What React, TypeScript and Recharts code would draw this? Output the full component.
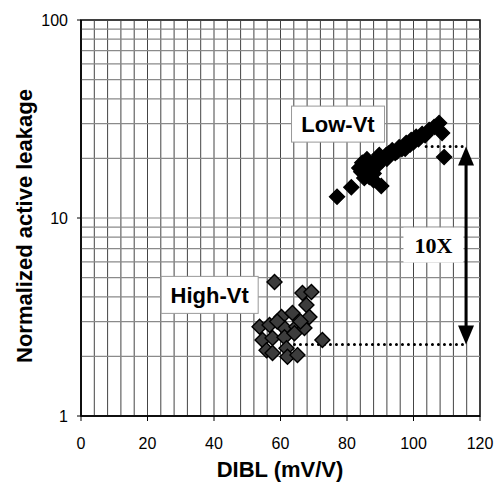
import {
  ScatterChart,
  Scatter,
  XAxis,
  YAxis,
  ReferenceLine,
  ReferenceArea,
  ReferenceDot,
} from "recharts";

// Low-Vt devices (DIBL mV/V, normalized leakage)
const lowVtDibl = [
  77, 81.3, 83.7, 84.3, 84.6, 85.2, 85.5, 86.7, 86.7, 87.5, 88.8, 88, 89.7, 90.3,
  90.5, 91.8, 92.5, 93.6, 94.5, 95.7, 96.5, 97.8, 99.3, 99, 100.8, 101.5, 102.6,
  103.5, 104.7, 106.2, 107.7, 108.6, 109.2, 86, 89, 88, 92, 95, 97.5, 100,
];
const lowVtLeak = [
  12.8, 14.3, 17.9, 17.1, 19, 15.9, 18, 16.1, 18.5, 17.2, 19.6, 16.8, 20.8, 14.5,
  19.5, 20.8, 21.2, 22, 21.3, 22.8, 22.3, 23.9, 24.8, 23.5, 25.7, 25, 26.6, 26.2,
  27.8, 28.8, 30.2, 26.9, 20.3, 19.8, 18.3, 15.5, 19.9, 21.6, 22.4, 24.1,
];

// High-Vt devices
const highVtDibl = [
  58.2, 66.6, 69.3, 67.8, 60.3, 63.6, 68.7, 53.7, 56.7, 61.2, 64.8, 67.2, 54.6,
  57.6, 61.2, 64.2, 55.8, 57.6, 61.8, 62.1, 65.1, 72.6, 59, 66,
];
const highVtLeak = [
  4.75, 4.18, 4.23, 3.64, 3.16, 3.31, 3.16, 2.82, 2.88, 2.78, 2.82, 2.78, 2.42,
  2.48, 2.5, 2.62, 2.15, 2.08, 2.2, 1.99, 2.03, 2.42, 3.0, 3.0,
];

const xTicks = [0, 20, 40, 60, 80, 100, 120];
const yTicks = [1, 10, 100];
const xGrid = [
  4, 8, 12, 16, 20, 24, 28, 32, 36, 40, 44, 48, 52, 56, 60, 64, 68, 72, 76, 80,
  84, 88, 92, 96, 100, 104, 108, 112, 116,
];
const yGrid = [2, 3, 4, 5, 6, 7, 8, 9, 10, 20, 30, 40, 50, 60, 70, 80, 90];

// annotation: the 10X gap between the two groups
const gapX = 115.8;
const gapTop = 23;
const gapBottom = 2.3;
const topDotStart = 103.8;
const bottomDotStart = 64.2;

const lowVt = lowVtDibl.map((x, i) => ({ x, y: lowVtLeak[i] }));
const highVt = highVtDibl.map((x, i) => ({ x, y: highVtLeak[i] }));

const sans = "'Liberation Sans', Arial, sans-serif";

function Diamond(props: any) {
  const { cx, cy, fill, stroke } = props;
  if (cx == null || cy == null) return null;
  const r = 7.5;
  return (
    <polygon
      points={`${cx},${cy - r} ${cx + r},${cy} ${cx},${cy + r} ${cx - r},${cy}`}
      fill={fill}
      stroke={stroke}
      strokeWidth={1.4}
    />
  );
}

function BoxLabel({ cx, cy, text, w, h, border, serif }: any) {
  return (
    <g>
      <rect
        x={cx - w / 2}
        y={cy - h / 2}
        width={w}
        height={h}
        fill="#fff"
        stroke={border ? "#999" : "none"}
      />
      <text
        x={cx}
        y={cy + 8}
        textAnchor="middle"
        fontFamily={serif ? "'Liberation Serif', 'Times New Roman', serif" : sans}
        fontWeight="bold"
        fontSize={22}
        fill="#000"
      >
        {text}
      </text>
    </g>
  );
}

function ArrowHead({ cx, cy, up }: any) {
  const w = 8;
  const h = 19;
  const d = up
    ? `M${cx},${cy} L${cx + w},${cy + h} L${cx - w},${cy + h} Z`
    : `M${cx},${cy} L${cx + w},${cy - h} L${cx - w},${cy - h} Z`;
  return <path d={d} fill="#000" />;
}

export default function App() {
  return (
    <div style={{ position: "absolute", left: 0, top: 0, background: "#fff" }}>
      <ScatterChart
        width={498}
        height={489}
        margin={{ top: 20, right: 18, bottom: 0, left: 0 }}
      >
        {xGrid.map((v) => (
          <ReferenceLine key={"vx" + v} x={v} stroke="#444" strokeWidth={1} />
        ))}
        {yGrid.map((v) => (
          <ReferenceLine key={"hy" + v} y={v} stroke="#8a8a8a" strokeWidth={1.2} />
        ))}
        <ReferenceArea x1={0} x2={120} y1={1} y2={100} fill="none" stroke="#000" strokeWidth={1.5} />
        <XAxis
          type="number"
          dataKey="x"
          domain={[0, 120]}
          ticks={xTicks}
          height={73}
          tickSize={5}
          tickMargin={17}
          axisLine={{ stroke: "#000", strokeWidth: 1.5 }}
          tickLine={{ stroke: "#000" }}
          tick={{ fontSize: 16, fill: "#000", fontFamily: sans }}
          label={{
            content: () => (
              <text
                x={280}
                y={477}
                textAnchor="middle"
                fontFamily={sans}
                fontWeight="bold"
                fontSize={22}
                fill="#000"
              >
                DIBL (mV/V)
              </text>
            ),
          }}
        />
        <YAxis
          type="number"
          dataKey="y"
          scale="log"
          domain={[1, 100]}
          allowDataOverflow
          ticks={yTicks}
          width={81}
          tickSize={4}
          tickMargin={9}
          axisLine={{ stroke: "#000", strokeWidth: 1.5 }}
          tickLine={{ stroke: "#000" }}
          tick={{ fontSize: 16, fill: "#000", fontFamily: sans }}
          label={{
            content: () => (
              <text
                x={32}
                y={226}
                transform="rotate(-90 32 226)"
                textAnchor="middle"
                fontFamily={sans}
                fontWeight="bold"
                fontSize={22}
                fill="#000"
              >
                Normalized active leakage
              </text>
            ),
          }}
        />
        <Scatter
          data={highVt}
          isAnimationActive={false}
          shape={(p: any) => <Diamond {...p} fill="#3c3c3c" stroke="#000" />}
        />
        <Scatter
          data={lowVt}
          isAnimationActive={false}
          shape={(p: any) => <Diamond {...p} fill="#000" stroke="#000" />}
        />
        <ReferenceLine
          segment={[
            { x: topDotStart, y: gapTop },
            { x: gapX, y: gapTop },
          ]}
          stroke="#000"
          strokeWidth={3}
          strokeDasharray="0 6"
          strokeLinecap="round"
        />
        <ReferenceLine
          segment={[
            { x: bottomDotStart, y: gapBottom },
            { x: gapX, y: gapBottom },
          ]}
          stroke="#000"
          strokeWidth={3}
          strokeDasharray="0 6"
          strokeLinecap="round"
        />
        <ReferenceLine
          segment={[
            { x: gapX, y: gapTop * 0.88 },
            { x: gapX, y: gapBottom * 1.13 },
          ]}
          stroke="#000"
          strokeWidth={3}
        />
        <ReferenceDot x={gapX} y={gapTop} shape={(p: any) => <ArrowHead {...p} up />} />
        <ReferenceDot x={gapX} y={gapBottom} shape={(p: any) => <ArrowHead {...p} />} />
        <ReferenceDot
          x={77.3}
          y={29.8}
          shape={(p: any) => <BoxLabel {...p} text="Low-Vt" w={93} h={36} border />}
        />
        <ReferenceDot
          x={38.7}
          y={4.09}
          shape={(p: any) => <BoxLabel {...p} text="High-Vt" w={97} h={37} border />}
        />
        <ReferenceDot
          x={106}
          y={7.3}
          shape={(p: any) => <BoxLabel {...p} text="10X" w={60} h={35} serif />}
        />
      </ScatterChart>
    </div>
  );
}
